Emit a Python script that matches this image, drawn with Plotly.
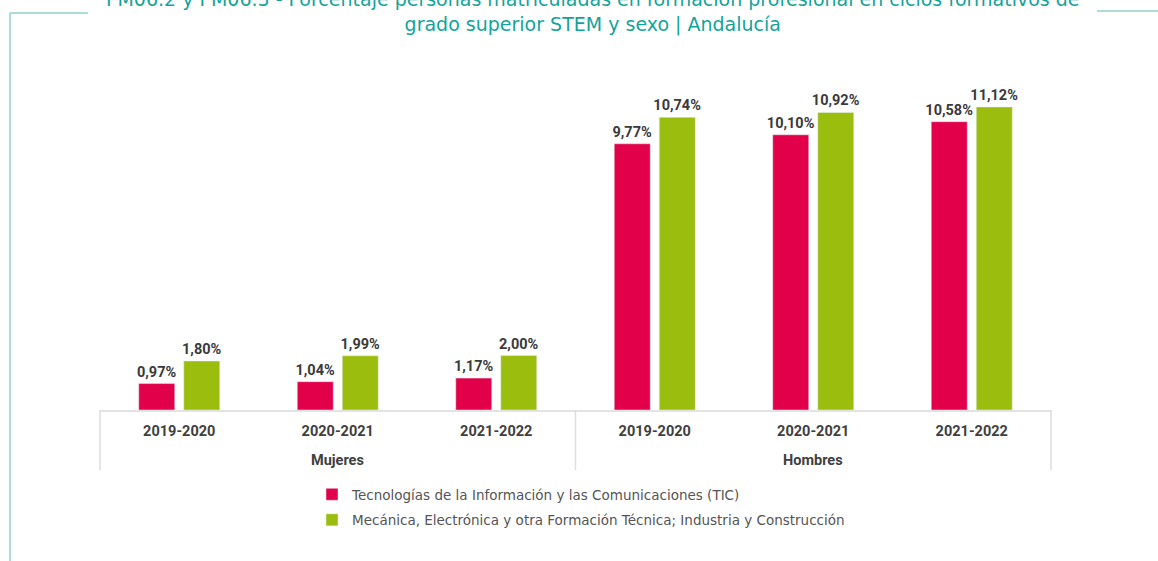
import plotly.graph_objects as go

sexes = ["Mujeres", "Mujeres", "Mujeres", "Hombres", "Hombres", "Hombres"]
years = ["2019-2020", "2020-2021", "2021-2022", "2019-2020", "2020-2021", "2021-2022"]
tic = [0.97, 1.04, 1.17, 9.77, 10.10, 10.58]
mec = [1.80, 1.99, 2.00, 10.74, 10.92, 11.12]
groups = ["Mujeres", "Hombres"]
series_names = [
    "Tecnologías de la Información y las Comunicaciones (TIC)",
    "Mecánica, Electrónica y otra Formación Técnica; Industria y Construcción",
]
title_text = ("PM06.2 y PM06.3 - Porcentaje personas matriculadas en formación profesional en ciclos formativos de"
              "<br>grado superior STEM y sexo | Andalucía")

def fmt(v):
    return f"{v:.2f}".replace(".", ",") + "%"

cats = [f"{s} {y}" for s, y in zip(sexes, years)]

fig = go.Figure()
for k, (name, vals, color) in enumerate([(series_names[0], tic, "#E3004A"), (series_names[1], mec, "#9BBE0E")]):
    fig.add_trace(go.Bar(
        x=cats, y=vals, name=name, marker_color=color, legendgroup=f"g{k}",
        text=[fmt(v) for v in vals], textposition="outside", cliponaxis=False,
        constraintext="none",
        textfont=dict(family="Roboto", size=14.5, color="#3a3a3a", weight="bold"),
    ))

W, H = 1158, 561
L, R, T, B = 100, 107, 83, 151
pw, ph = W - L - R, H - T - B

def px(x):
    return (x - L) / pw

def py(y):
    return (H - B - y) / ph

line_col = "#8fd1cd"
div_col = "#dddddd"
shapes = [
    dict(type="line", xref="paper", yref="paper", x0=px(10), x1=px(10), y0=py(13), y1=py(561), line=dict(color=line_col, width=1.5)),
    dict(type="line", xref="paper", yref="paper", x0=px(10), x1=px(88), y0=py(13), y1=py(13), line=dict(color=line_col, width=1.5)),
    dict(type="line", xref="paper", yref="paper", x0=px(1097), x1=px(1158), y0=py(11), y1=py(11), line=dict(color=line_col, width=1.5)),
]
for xd in [0, 0.5, 1]:
    shapes.append(dict(type="line", xref="paper", yref="paper", x0=xd, x1=xd, y0=0, y1=py(470),
                       line=dict(color=div_col, width=1.5)))

annotations = [dict(text=title_text, xref="paper", yref="paper", x=px(593), y=py(-14),
                    xanchor="center", yanchor="top", showarrow=False, align="center",
                    font=dict(family="DejaVu Sans", size=19, color="#14a39b"))]
for i, g in enumerate(groups):
    annotations.append(dict(text=f"<b>{g}</b>", xref="paper", yref="paper", x=0.25 + 0.5 * i, y=py(460),
                            xanchor="center", yanchor="middle", showarrow=False,
                            font=dict(family="Roboto", size=14.5, color="#404040")))

fig.update_layout(
    width=W, height=H,
    margin=dict(l=L, r=R, t=T, b=B),
    paper_bgcolor="white", plot_bgcolor="white",
    barmode="group", bargap=0.432, bargroupgap=0.2,
    showlegend=True,
    legend=dict(orientation="v", x=px(312), y=py(479), xanchor="left", yanchor="top",
                font=dict(family="DejaVu Sans", size=13.5, color="#555555"), tracegroupgap=5),
    shapes=shapes,
    annotations=annotations,
    font=dict(family="Roboto"),
)
fig.update_xaxes(type="category", tickvals=cats, ticktext=years,
                 showline=True, linecolor="#e3e3e3", linewidth=2,
                 tickfont=dict(family="Roboto", size=14.5, color="#404040", weight="bold"),
                 ticks="", ticklabelstandoff=7, showgrid=False)
fig.update_yaxes(range=[0, 12], visible=False, showgrid=False)

fig.write_html("out.html", config={"displayModeBar": False},
               post_script="document.body.style.margin='0';document.body.style.padding='0';")
